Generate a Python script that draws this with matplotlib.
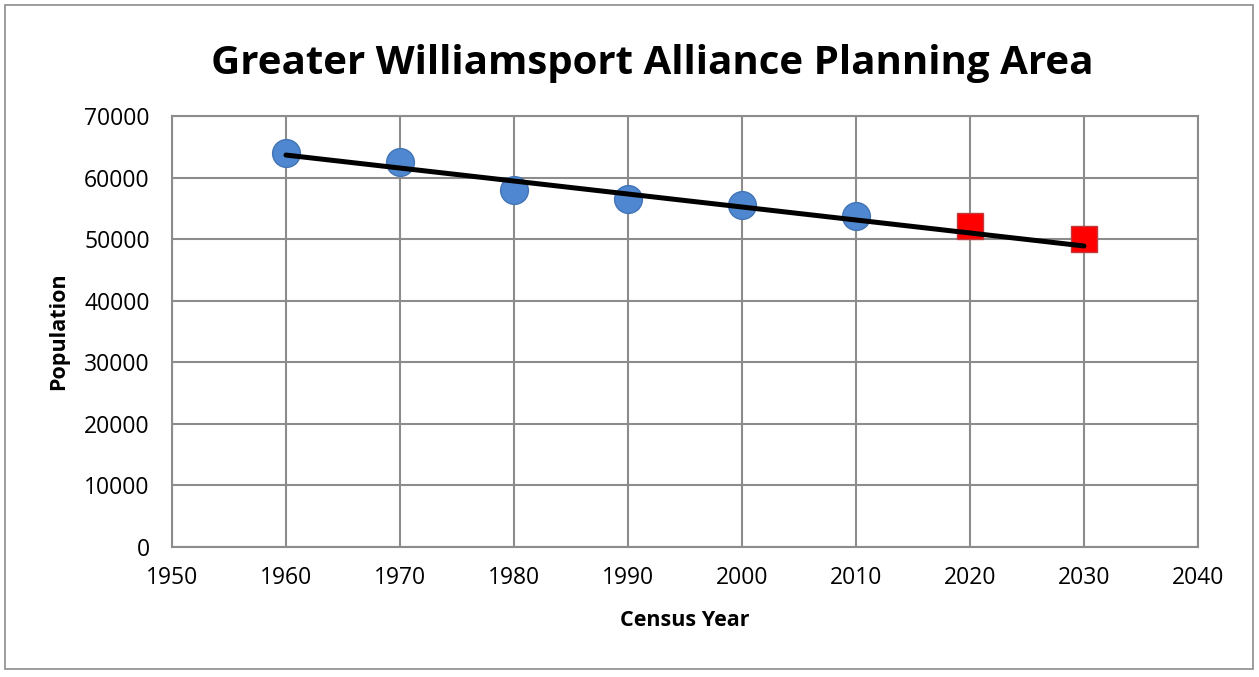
import matplotlib
matplotlib.use('Agg')
import matplotlib.pyplot as plt
import numpy as np
from matplotlib.patches import Rectangle

# census counts and projections
years = [1960, 1970, 1980, 1990, 2000, 2010]
population = [64030, 62480, 58010, 56560, 55550, 53710]
proj_years = [2020, 2030]
proj_population = [52210, 49950]

plt.rcParams['font.family'] = ['Open Sans', 'DejaVu Sans']

fig = plt.figure(figsize=(12.59, 6.77), dpi=100)
ax = fig.add_axes([0.1366, 0.192, 0.8149, 0.6366])

# linear trend of census data, carried to 2030
coef = np.polyfit(years, population, 1)
trend_x = np.array([years[0], proj_years[-1]])
ax.plot(trend_x, np.polyval(coef, trend_x), color='black', lw=3.6, zorder=4,
        solid_capstyle='round')

ax.plot(years, population, 'o', ms=20, color='#4F88D0', mec='#4174B5', mew=1,
        zorder=3)
ax.plot(proj_years, proj_population, 's', ms=19, color='#FF0000', mec='#C0393B',
        mew=1, zorder=3)

ax.set_xlim(1950, 2040)
ax.set_ylim(0, 70000)
ax.set_xticks(range(1950, 2041, 10))
ax.set_yticks(range(0, 70001, 10000))
ax.grid(True, color='#8C8C8C', lw=1.5)
ax.set_axisbelow(True)
for s in ax.spines.values():
    s.set_color('#8C8C8C')
    s.set_linewidth(1.5)
ax.tick_params(length=0, labelsize=16.5)
ax.tick_params(axis='y', pad=16)
ax.tick_params(axis='x', pad=14)

fig.text(0.518, 0.906, 'Greater Williamsport Alliance Planning Area',
         fontsize=29, fontweight='bold', ha='center', va='center')
ax.set_xlabel('Census Year', fontsize=15.5, fontweight='bold', labelpad=14)
ax.set_ylabel('Population', fontsize=15.5, fontweight='bold', labelpad=11)

fig.patches.append(Rectangle((5 / 1259, 8 / 677), 1248 / 1259, 664 / 677,
                             transform=fig.transFigure, fill=False,
                             edgecolor='#8C8C8C', lw=1.2))

fig.savefig('out.png', dpi=100)
